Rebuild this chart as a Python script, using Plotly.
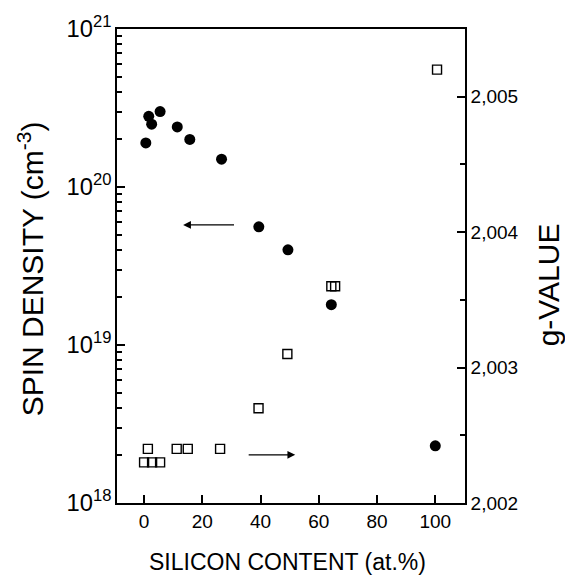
import plotly.graph_objects as go

# Spin density (filled circles, left log axis)
si_spin = [0.6, 1.6, 2.6, 5.5, 11.4, 15.7, 26.6, 39.4, 49.4, 64.3, 100.0]
spin_density = [1.9e20, 2.8e20, 2.5e20, 3.0e20, 2.4e20, 2.0e20, 1.5e20, 5.6e19, 4.0e19, 1.8e19, 2.3e18]

# g-value (open squares, right axis)
si_g = [0.0, 2.75, 5.5, 1.3, 11.2, 15.0, 26.1, 39.3, 49.2, 64.3, 65.6, 100.6]
g_value = [2.00230, 2.00230, 2.00230, 2.00240, 2.00240, 2.00240, 2.00240,
           2.00270, 2.00310, 2.00360, 2.00360, 2.00520]

x_ticks = [0, 20, 40, 60, 80, 100]
g_ticks = [2.002, 2.003, 2.004, 2.005]
g_minor_ticks = [2.0025, 2.0035, 2.0045, 2.0055]
spin_minor_ticks = [k * 10.0 ** e for e in (18, 19, 20) for k in range(2, 10)]

FONT = "Liberation Sans, Arial, sans-serif"

fig = go.Figure()
fig.add_trace(go.Scatter(
    x=si_spin, y=spin_density, mode="markers", yaxis="y",
    marker=dict(symbol="circle", size=11, color="black"),
    showlegend=False))
fig.add_trace(go.Scatter(
    x=si_g, y=g_value, mode="markers", yaxis="y2",
    marker=dict(symbol="square-open", size=9, color="black", line=dict(width=1.4)),
    showlegend=False))
# invisible carriers so the minor-tick axes are drawn
fig.add_trace(go.Scatter(
    x=si_spin, y=spin_density, mode="markers", yaxis="y3",
    marker=dict(size=1, opacity=0), hoverinfo="skip", showlegend=False))
fig.add_trace(go.Scatter(
    x=si_g, y=g_value, mode="markers", yaxis="y4",
    marker=dict(size=1, opacity=0), hoverinfo="skip", showlegend=False))

tick_style = dict(ticks="inside", tickcolor="black", showgrid=False, zeroline=False)

fig.update_layout(
    width=565, height=576,
    margin=dict(l=117, r=100, t=24, b=73),
    paper_bgcolor="white", plot_bgcolor="white",
    separators=", ",
    font=dict(family=FONT, color="black", size=19),
    xaxis=dict(
        range=[-9.3, 110.2], tickvals=x_ticks,
        showline=True, linecolor="black", linewidth=1.6, mirror=True,
        ticklen=8, tickwidth=2,
        tickfont=dict(size=19, family=FONT), **tick_style,
    ),
    yaxis=dict(
        type="log", range=[18, 21], dtick=1, exponentformat="power",
        showline=True, linecolor="black", linewidth=1.6,
        ticklen=8, tickwidth=2,
        tickfont=dict(size=19, family=FONT), **tick_style,
    ),
    yaxis3=dict(
        type="log", range=[18, 21], overlaying="y", side="left",
        tickvals=spin_minor_ticks, showticklabels=False,
        showline=False, ticklen=5, tickwidth=1.5, **tick_style,
    ),
    yaxis2=dict(
        overlaying="y", side="right", range=[2.002, 2.0055],
        tickvals=g_ticks, tickformat=".3f",
        showline=True, linecolor="black", linewidth=1.6,
        ticklen=8, tickwidth=2,
        tickfont=dict(size=19, family=FONT), **tick_style,
    ),
    yaxis4=dict(
        overlaying="y", side="right", range=[2.002, 2.0055],
        tickvals=g_minor_ticks, showticklabels=False,
        showline=False, ticklen=5, tickwidth=1.5, **tick_style,
    ),
)

annotations = [
    # axis titles
    dict(text="SPIN DENSITY (cm<sup>-3</sup>)", xref="paper", yref="paper",
         x=-0.247, y=0.493, textangle=-90, showarrow=False,
         font=dict(size=30, family=FONT), xanchor="center", yanchor="middle"),
    dict(text="g-VALUE", xref="paper", yref="paper",
         x=1.241, y=0.461, textangle=-90, showarrow=False,
         font=dict(size=30, family=FONT), xanchor="center", yanchor="middle"),
    dict(text="SILICON CONTENT (at.%)", xref="paper", yref="paper",
         x=0.49, y=-0.125, showarrow=False,
         font=dict(size=23, family=FONT), xanchor="center", yanchor="middle"),
    # arrows indicating which axis each series belongs to
    dict(x=13.4, y=19.76, xref="x", yref="y", ax=31.4, ay=19.76,
         axref="x", ayref="y", text="", showarrow=True,
         arrowhead=2, arrowsize=1.3, arrowwidth=1.2, arrowcolor="black"),
    dict(x=51.9, y=2.002356, xref="x", yref="y2", ax=35.4, ay=2.002356,
         axref="x", ayref="y2", text="", showarrow=True,
         arrowhead=2, arrowsize=1.3, arrowwidth=1.2, arrowcolor="black"),
]
fig.update_layout(annotations=annotations)

fig.write_html("out.html")
